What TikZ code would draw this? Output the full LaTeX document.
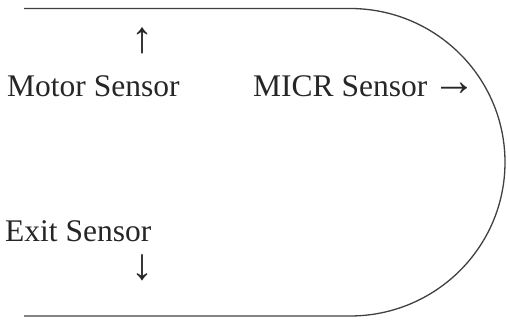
\documentclass[tikz,border=0pt]{standalone}
\usepackage{fontspec}
\setmainfont{Liberation Serif}
\begin{document}
\begin{tikzpicture}[x=1pt,y=1pt,
  lbl/.style={inner sep=0pt,font=\fontsize{31.5}{36}\selectfont,text=black!85},
  arr/.style={inner sep=0pt,font=\fontsize{44}{48}\selectfont,text=black!85},
  track/.style={line width=1.3pt,draw=black!75}]
\useasboundingbox (0,0) rectangle (507,321);
\coordinate (tl) at (24,312.5);
\coordinate (tr) at (350,312.5);
\coordinate (bl) at (24,5);
\draw[track] (tl) -- (tr) arc[start angle=90,end angle=-90,x radius=155,y radius=153.75] -- (bl);
\node[lbl,anchor=base west] (motor) at (7,224) {Motor Sensor};
\node[lbl,anchor=base west] (micr) at (253,224) {MICR Sensor\hspace{5pt}{\fontsize{44}{48}\selectfont\raisebox{1.5pt}{→}}};
\node[lbl,anchor=base west] (exit) at (5,79) {Exit Sensor};
\node[arr,anchor=center] (up) at (142,280) {↑};
\node[arr,anchor=center] (down) at (142,53) {↓};
\end{tikzpicture}
\end{document}
